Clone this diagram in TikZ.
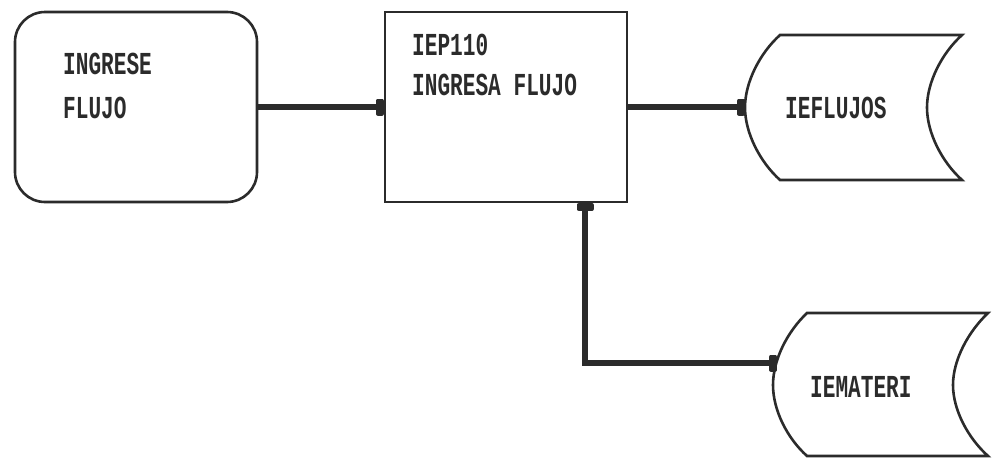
\documentclass[tikz,border=0pt]{standalone}
\usepackage{fontspec}
\newfontfamily\dotfont[FakeStretch=0.66]{Liberation Mono}
\usetikzlibrary{arrows.meta}
\definecolor{ink}{HTML}{2B2B2B}
\begin{document}
\begin{tikzpicture}[x=1pt,y=-1pt,
  boxline/.style={draw=ink,line width=2.6pt},
  headtip/.tip={Rectangle[length=8pt,width=17pt,round]},
  conn/.style={draw=ink,line width=6pt,-headtip},
  lbl/.style={anchor=west,inner sep=0pt,text=ink,font=\dotfont\bfseries\fontsize{32}{32}\selectfont}]
\useasboundingbox (0,0) rectangle (998,458);
% input box
\node[boxline,rounded corners=30pt,minimum width=242pt,minimum height=190pt,inner sep=0pt] (ingrese) at (136,107) {};
\node[lbl] (t1) at (63,64) {INGRESE};
\node[lbl] (t2) at (63,108) {FLUJO};
% process box
\node[boxline,minimum width=242pt,minimum height=190pt,inner sep=0pt] (proc) at (506,107) {};
\node[lbl] (t3) at (412,45) {IEP110};
\node[lbl] (t4) at (412,85) {INGRESA FLUJO};
% storage IEFLUJOS
\draw[boxline] (780,35) -- (962,35)
  .. controls (942,53) and (927,82) .. (927,107.5)
  .. controls (927,133) and (942,162) .. (962,180) -- (780,180)
  .. controls (760,162) and (745,133) .. (745,107.5)
  .. controls (745,82) and (760,53) .. cycle;
\node[lbl] (flujos) at (785,108) {IEFLUJOS};
\coordinate (fin) at (745,107);
% storage IEMATERI
\draw[boxline] (807,313) -- (988,313)
  .. controls (968,332) and (953,360) .. (953,385)
  .. controls (953,410) and (968,438) .. (988,456) -- (807,456)
  .. controls (787,438) and (773,410) .. (773,385)
  .. controls (773,360) and (787,332) .. cycle;
\node[lbl] (materi) at (810,387) {IEMATERI};
\coordinate (min) at (777,363);
\coordinate (up) at (585,203);
% connectors
\draw[conn] (ingrese.east) -- (proc.west);
\draw[conn] (proc.east) -- (fin);
\draw[conn,headtip-headtip] (min) -| (up);
\end{tikzpicture}
\end{document}
